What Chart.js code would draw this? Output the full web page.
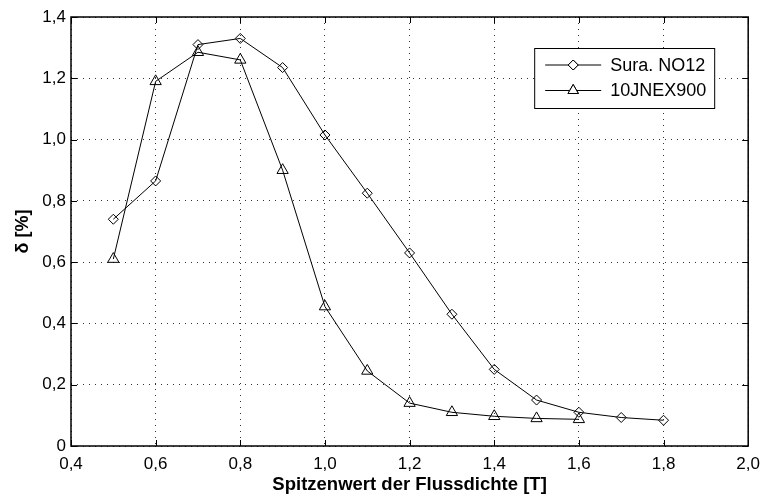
<!DOCTYPE html>
<html>
<head>
<meta charset="utf-8">
<script src="https://cdn.jsdelivr.net/npm/chart.js@4/dist/chart.umd.min.js"></script>
<style>
  html, body { margin: 0; padding: 0; background: #fff; }
  #wrap { width: 768px; height: 496px; }
</style>
</head>
<body>
<div id="wrap"><canvas id="chart" width="768" height="496"></canvas></div>
<script>
const FLUX_SURA = [0.5, 0.6, 0.7, 0.8, 0.9, 1.0, 1.1, 1.2, 1.3, 1.4, 1.5, 1.6, 1.7, 1.8];
const DELTA_SURA = [0.74, 0.865, 1.31, 1.33, 1.235, 1.015, 0.825, 0.63, 0.43, 0.25, 0.15, 0.11, 0.093, 0.084];
const FLUX_JNEX = [0.5, 0.6, 0.7, 0.8, 0.9, 1.0, 1.1, 1.2, 1.3, 1.4, 1.5, 1.6];
const DELTA_JNEX = [0.61, 1.19, 1.285, 1.26, 0.90, 0.455, 0.245, 0.14, 0.11, 0.097, 0.09, 0.087];
const X_TICKS = [0.4, 0.6, 0.8, 1.0, 1.2, 1.4, 1.6, 1.8, 2.0];
const Y_TICKS = [0, 0.2, 0.4, 0.6, 0.8, 1.0, 1.2, 1.4];
const LABELS = ["Sura. NO12", "10JNEX900"];

const FONT = "'Liberation Sans', Arial, Helvetica, sans-serif";

function pts(xs, ys) {
  return xs.map((x, i) => ({ x, y: ys[i] }));
}

function fmtComma(v) {
  if (Math.abs(v) < 1e-9) return "0";
  return v.toFixed(1).replace(".", ",");
}

// box, inward tick marks, and the legend like the original
const frame = {
  id: "frame",
  afterDraw(chart) {
    const { ctx, chartArea: a, scales } = chart;
    ctx.save();
    ctx.strokeStyle = "#000";
    ctx.lineWidth = 1.5;
    ctx.strokeRect(a.left, a.top, a.right - a.left, a.bottom - a.top);
    ctx.lineWidth = 1;
    const tl = 6;
    ctx.beginPath();
    for (const t of X_TICKS) {
      const px = Math.round(scales.x.getPixelForValue(t)) + 0.5;
      ctx.moveTo(px, a.bottom); ctx.lineTo(px, a.bottom - tl);
      ctx.moveTo(px, a.top); ctx.lineTo(px, a.top + tl);
    }
    for (const t of Y_TICKS) {
      const py = Math.round(scales.y.getPixelForValue(t)) + 0.5;
      ctx.moveTo(a.left, py); ctx.lineTo(a.left + tl, py);
      ctx.moveTo(a.right, py); ctx.lineTo(a.right - tl, py);
    }
    ctx.stroke();

    // legend
    const lx = a.right - 214, ly = a.top + 31, lw = 180, lh = 60;
    ctx.fillStyle = "#fff";
    ctx.fillRect(lx, ly, lw, lh);
    ctx.lineWidth = 1;
    ctx.strokeRect(lx + 0.5, ly + 0.5, lw, lh);
    const styles = ["rectRot", "triangle"];
    const radii = [5, 6];
    ctx.font = "18px " + FONT;
    ctx.textBaseline = "middle";
    ctx.textAlign = "left";
    for (let i = 0; i < 2; i++) {
      const ry = ly + 17 + i * 25.5;
      ctx.strokeStyle = "#000";
      ctx.beginPath();
      ctx.moveTo(lx + 11, ry); ctx.lineTo(lx + 67, ry);
      ctx.stroke();
      ctx.fillStyle = "#fff";
      Chart.helpers.drawPoint(ctx, { pointStyle: styles[i], radius: radii[i], borderWidth: 1 }, lx + 39, ry);
      ctx.fill();
      ctx.stroke();
      ctx.fillStyle = "#000";
      ctx.fillText(LABELS[i], lx + 76, ry + 1);
    }
    ctx.restore();
  }
};

new Chart(document.getElementById("chart"), {
  type: "scatter",
  data: {
    datasets: [
      {
        label: LABELS[0],
        data: pts(FLUX_SURA, DELTA_SURA),
        showLine: true,
        borderColor: "#000",
        backgroundColor: "rgba(0,0,0,0)",
        borderWidth: 1,
        pointStyle: "rectRot",
        pointRadius: 5,
        pointBorderWidth: 1,
        pointBorderColor: "#000",
        pointBackgroundColor: "rgba(0,0,0,0)"
      },
      {
        label: LABELS[1],
        data: pts(FLUX_JNEX, DELTA_JNEX),
        showLine: true,
        borderColor: "#000",
        backgroundColor: "rgba(0,0,0,0)",
        borderWidth: 1,
        pointStyle: "triangle",
        pointRadius: 6.5,
        pointBorderWidth: 1,
        pointBorderColor: "#000",
        pointBackgroundColor: "rgba(0,0,0,0)"
      }
    ]
  },
  options: {
    responsive: false,
    animation: false,
    layout: { padding: { top: 17, right: 13, left: 12, bottom: 0 } },
    plugins: { legend: { display: false }, tooltip: { enabled: false } },
    scales: {
      x: {
        type: "linear",
        min: 0.4,
        max: 2.0,
        afterBuildTicks(s) { s.ticks = X_TICKS.map(v => ({ value: v })); },
        afterFit(s) { s.height = 50; },
        ticks: {
          color: "#000",
          font: { family: FONT, size: 17 },
          padding: 8,
          maxRotation: 0,
          callback: v => v.toFixed(1).replace(".", ",")
        },
        grid: { color: "#333", drawTicks: false, tickLength: 0 },
        border: { display: false, dash: [1, 5] },
        title: {
          display: true,
          text: "Spitzenwert der Flussdichte [T]",
          color: "#000",
          font: { family: FONT, size: 18.5, weight: "bold" },
          padding: { top: 0, bottom: 0 }
        }
      },
      y: {
        type: "linear",
        min: 0,
        max: 1.4,
        afterBuildTicks(s) { s.ticks = Y_TICKS.map(v => ({ value: v })); },
        afterFit(s) { s.width = 59; },
        ticks: {
          color: "#000",
          font: { family: FONT, size: 17 },
          padding: 5,
          callback: v => fmtComma(v)
        },
        grid: { color: "#333", drawTicks: false, tickLength: 0 },
        border: { display: false, dash: [1, 5] },
        title: {
          display: true,
          text: "δ [%]",
          color: "#000",
          font: { family: FONT, size: 18, weight: "bold" },
          padding: { top: 0, bottom: 4 }
        }
      }
    }
  },
  plugins: [frame]
});
</script>
</body>
</html>
